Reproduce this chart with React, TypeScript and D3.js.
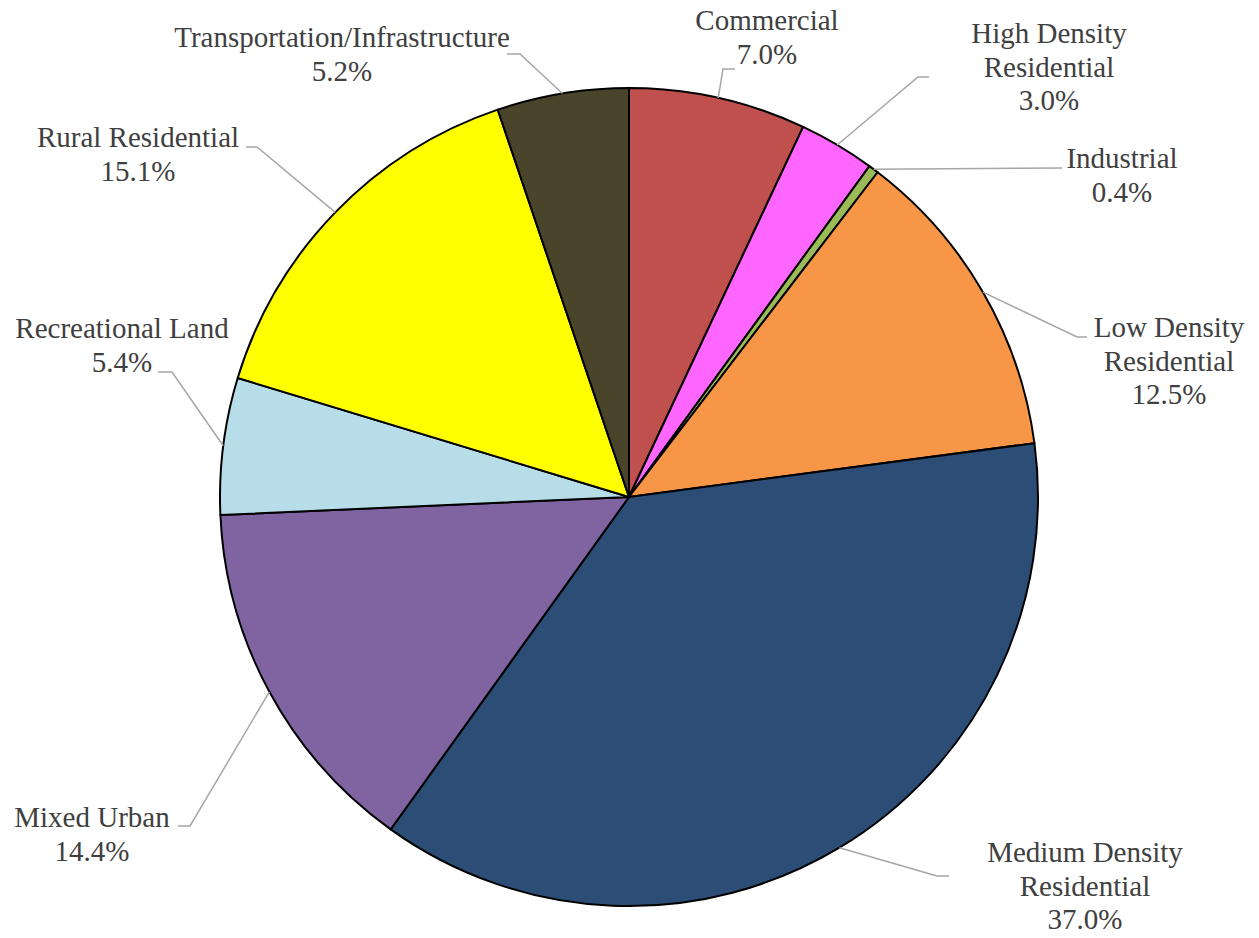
import React from 'react';
import * as d3 from 'd3';

const categories = [
  'Commercial',
  'High Density Residential',
  'Industrial',
  'Low Density Residential',
  'Medium Density Residential',
  'Mixed Urban',
  'Recreational Land',
  'Rural Residential',
  'Transportation/Infrastructure',
];
const shares = [7.0, 3.0, 0.4, 12.5, 37.0, 14.4, 5.4, 15.1, 5.2];
const sliceColors = ['#C0504D', '#FF66FF', '#9BBB59', '#F79646', '#2C4D75', '#8064A2', '#B7DEE8', '#FFFF00', '#4A452A'];

// label placement: knee of leader, end of leader, text centre x, first baseline, wrap name
const labelLayout = [
  { knee: [723, 69], end: [735, 69], cx: 767, y: 30, wrap: false },
  { knee: [918, 77], end: [929, 77], cx: 1049, y: 43, wrap: true },
  { knee: [1062, 168], end: [1062, 168], cx: 1122, y: 168, wrap: false },
  { knee: [1077, 337], end: [1087, 337], cx: 1169, y: 337, wrap: true },
  { knee: [937, 876], end: [949, 876], cx: 1085, y: 862, wrap: true },
  { knee: [190, 826], end: [178, 826], cx: 92, y: 827, wrap: false },
  { knee: [172, 372], end: [158, 372], cx: 122, y: 338, wrap: false },
  { knee: [257, 147], end: [246, 147], cx: 138, y: 147, wrap: false },
  { knee: [520, 54], end: [507, 54], cx: 342, y: 47, wrap: false },
];

const W = 1259;
const H = 938;
const cx = 629;
const cy = 497;
const R = 409;
const FONT = 'Liberation Serif';

const App: React.FC = () => {
  const pie = d3.pie<number>().sort(null).value((d) => d);
  const arcs = pie(shares);
  const arc = d3.arc<d3.PieArcDatum<number>>().innerRadius(0).outerRadius(R);
  const edge = d3.arc<d3.PieArcDatum<number>>().innerRadius(R).outerRadius(R);

  return (
    <svg width={W} height={H} fontFamily={FONT} style={{ position: 'absolute', left: 0, top: 0, fontFamily: FONT }}>
      <rect width={W} height={H} fill="#ffffff" />
      <g transform={`translate(${cx},${cy})`}>
        {arcs.map((d, i) => (
          <path key={i} d={arc(d) || ''} fill={sliceColors[i]} stroke="#000" strokeWidth={2} strokeLinejoin="round" />
        ))}
      </g>
      {arcs.map((d, i) => {
        const [ex, ey] = edge.centroid(d);
        const L = labelLayout[i];
        const pts = [[cx + ex, cy + ey], L.knee, L.end];
        const line = d3.line()(pts as [number, number][]) || '';
        return <path key={i} d={line} fill="none" stroke="#A6A6A6" strokeWidth={1.5} />;
      })}
      {categories.map((name, i) => {
        const L = labelLayout[i];
        let lines = [name];
        if (L.wrap) {
          const k = name.lastIndexOf(' ');
          lines = [name.slice(0, k), name.slice(k + 1)];
        }
        lines.push(`${shares[i].toFixed(1)}%`);
        return lines.map((t, j) => (
          <text
            key={`${i}-${j}`}
            x={L.cx}
            y={L.y + j * 33.5}
            textAnchor="middle"
            fontFamily={FONT}
            fontSize={29}
            fill="#404040"
            style={{ fontFamily: FONT }}
          >
            {t}
          </text>
        ));
      })}
    </svg>
  );
};

export default App;
